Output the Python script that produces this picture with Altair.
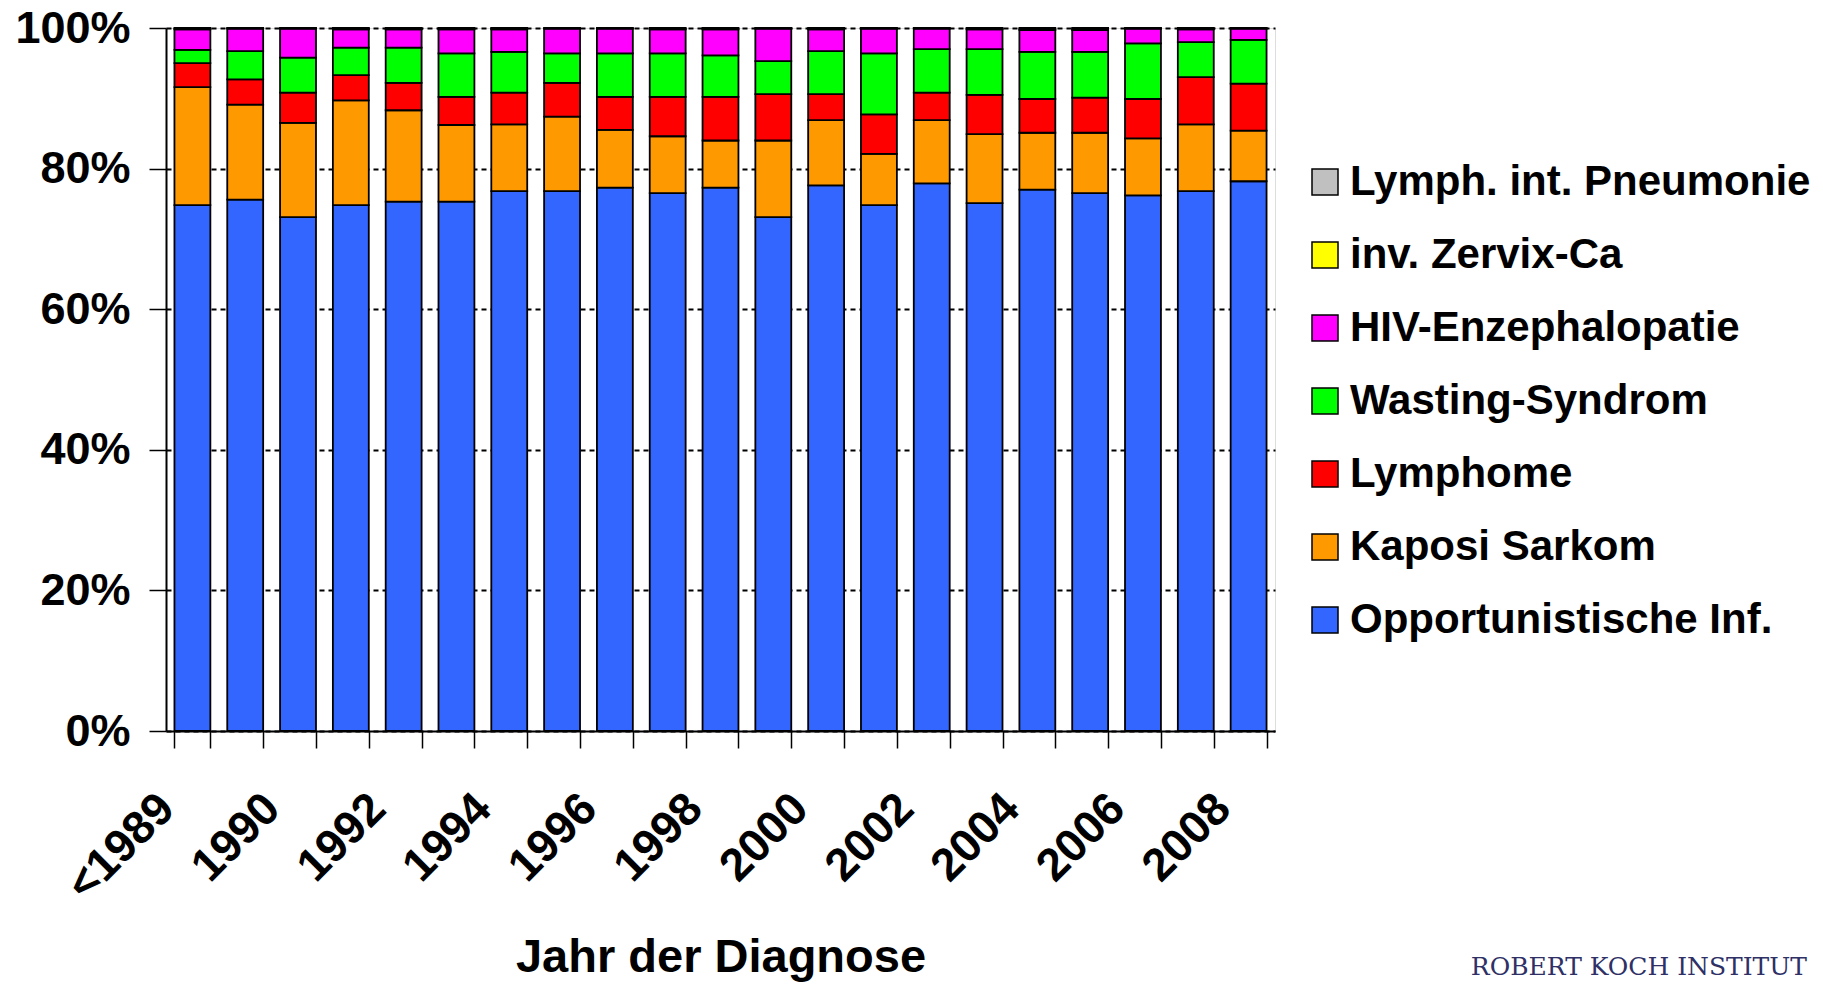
import json
import altair as alt
import pandas as pd

# ---- data (percent of cases per year) ----
categories = ["<1989", "1989", "1990", "1991", "1992", "1993", "1994", "1995",
              "1996", "1997", "1998", "1999", "2000", "2001", "2002", "2003",
              "2004", "2005", "2006", "2007", "2008"]

opportunistische = [74.8, 75.6, 73.1, 74.8, 75.3, 75.3, 76.8, 76.8, 77.3, 76.5, 77.3,
                    73.1, 77.6, 74.8, 77.9, 75.1, 77.0, 76.5, 76.2, 76.8, 78.2]
kaposi = [16.8, 13.5, 13.4, 14.9, 13.0, 10.9, 9.5, 10.6, 8.2, 8.1, 6.7,
          10.9, 9.3, 7.3, 9.0, 9.8, 8.1, 8.6, 8.1, 9.5, 7.2]
lymphome = [3.4, 3.6, 4.3, 3.6, 3.9, 4.0, 4.5, 4.8, 4.7, 5.6, 6.2,
            6.6, 3.7, 5.6, 3.9, 5.6, 4.8, 5.0, 5.6, 6.7, 6.7]
wasting = [1.9, 4.0, 5.0, 3.9, 5.0, 6.2, 5.8, 4.2, 6.2, 6.2, 5.9,
           4.7, 6.1, 8.7, 6.2, 6.5, 6.7, 6.5, 7.9, 5.0, 6.2]
enzephalopatie = [2.9, 3.2, 4.1, 2.6, 2.6, 3.4, 3.2, 3.5, 3.5, 3.4, 3.7,
                  4.6, 3.1, 3.5, 2.9, 2.8, 3.1, 3.1, 2.1, 1.8, 1.6]
zervix = [0.1, 0.05, 0.05, 0.1, 0.1, 0.1, 0.1, 0.05, 0.05, 0.1, 0.1,
          0.05, 0.1, 0.05, 0.05, 0.1, 0.15, 0.15, 0.05, 0.1, 0.05]
pneumonie = [0.1, 0.05, 0.05, 0.1, 0.1, 0.1, 0.1, 0.05, 0.05, 0.1, 0.1,
             0.05, 0.1, 0.05, 0.05, 0.1, 0.15, 0.15, 0.05, 0.1, 0.05]

# stacking order bottom -> top
series_names = ["Opportunistische Inf.", "Kaposi Sarkom", "Lymphome", "Wasting-Syndrom",
                "HIV-Enzephalopatie", "inv. Zervix-Ca", "Lymph. int. Pneumonie"]
series_values = [opportunistische, kaposi, lymphome, wasting, enzephalopatie, zervix, pneumonie]
series_colors = ["#3366FF", "#FF9900", "#FF0000", "#00FF00", "#FF00FF", "#FFFF00", "#C0C0C0"]

shown_labels = categories[::2]
x_title = "Jahr der Diagnose"
footer_text = "ROBERT KOCH INSTITUT"

rows = []
for k, (name, vals) in enumerate(zip(series_names, series_values)):
    for cat, v in zip(categories, vals):
        rows.append({"Jahr": cat, "Kategorie": name, "Wert": v, "ord": k})
df = pd.DataFrame(rows)

FONT = "Liberation Sans"

legend_domain = series_names[::-1]
legend_range = series_colors[::-1]

bars = alt.Chart(df).mark_bar(stroke="black", strokeWidth=1.8).encode(
    x=alt.X("Jahr:N", sort=categories,
            scale=alt.Scale(paddingInner=0.32, paddingOuter=0.16),
            axis=alt.Axis(
                title=x_title, titleFont=FONT, titleFontSize=47, titleFontWeight="bold",
                titleColor="black", titleBaseline="alphabetic", titleY=240,
                labelExpr="indexof(" + json.dumps(shown_labels) + ", datum.label) >= 0 ? datum.label : ''",
                labelAngle=-45, labelAlign="right", labelBaseline="middle",
                labelFont=FONT, labelFontSize=46, labelFontWeight="bold", labelColor="black",
                labelPadding=53, labelOffset=-26, labelOverlap=False, labelFlush=False,
                tickBand="extent", tickSize=17, tickWidth=1.5, tickColor="black",
                domainColor="black", domainWidth=2, grid=False)),
    y=alt.Y("Wert:Q", stack="normalize",
            scale=alt.Scale(domain=[0, 1], nice=False),
            axis=alt.Axis(
                title=None, values=[0, 0.2, 0.4, 0.6, 0.8, 1.0], format=".0%",
                labelFont=FONT, labelFontSize=45, labelFontWeight="bold", labelColor="black",
                labelPadding=19, tickSize=17, tickWidth=1.5, tickColor="black",
                domainColor="black", domainWidth=2,
                grid=True, gridColor="black", gridDash=[5, 4], gridWidth=2)),
    color=alt.Color("Kategorie:N",
                    scale=alt.Scale(domain=legend_domain, range=legend_range),
                    legend=alt.Legend(
                        orient="none", legendX=1138, legendY=133, title=None,
                        symbolType="square", symbolSize=676, symbolStrokeColor="black",
                        symbolStrokeWidth=1.5, symbolOpacity=1,
                        labelFont=FONT, labelFontSize=42, labelFontWeight="bold",
                        labelColor="black", labelOffset=4, labelLimit=800,
                        rowPadding=31.0, padding=0)),
    order=alt.Order("ord:Q", sort="ascending"),
)

footer = alt.Chart(pd.DataFrame({"t": [footer_text]})).mark_text(
    font="DejaVu Serif", fontSize=25, color="#2E3066", align="right",
    baseline="alphabetic").encode(
    text="t:N", x=alt.value(1641), y=alt.value(947))

chart = alt.layer(bars, footer).properties(
    width=1109, height=703,
    autosize=alt.AutoSizeParams(type="none"),
    padding={"left": 158, "top": 20, "right": 540, "bottom": 251},
).configure_view(stroke="black", strokeWidth=1).configure(background="white")

chart.save("out.html", embed_options={"renderer": "svg", "actions": False})
